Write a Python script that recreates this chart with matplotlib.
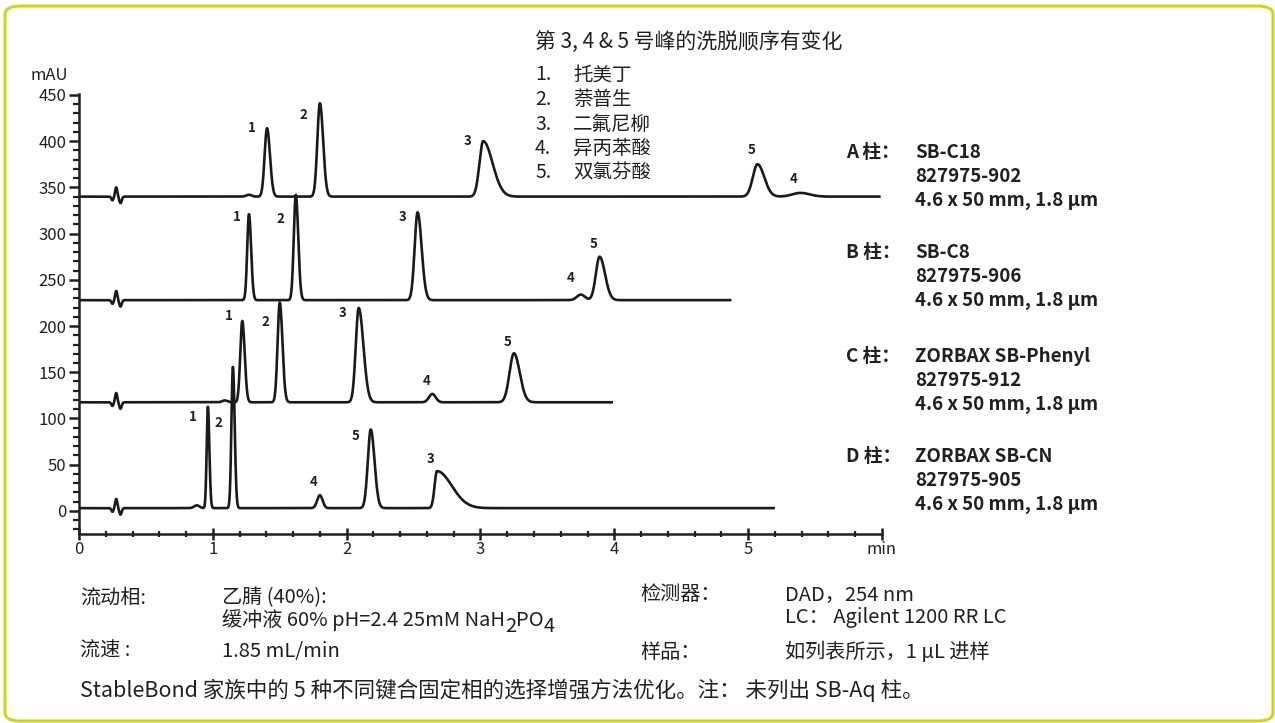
import matplotlib.pyplot as plt
import numpy as np
from matplotlib.patches import FancyBboxPatch
from matplotlib.ticker import MultipleLocator

plt.rcParams['font.family'] = ['Noto Sans CJK SC', 'DejaVu Sans']

# peak tables (time min, height above baseline mAU,
# left sigma, right sigma) and the peak number printed next to each peak
columns = ["A", "B", "C", "D"]
baselines = [340, 228, 117.5, 3]
run_end = [5.98, 4.865, 3.98, 5.19]

peak_ids = {
    "A": ["1", "2", "3", "5", "4"],
    "B": ["1", "2", "3", "4", "5"],
    "C": ["1", "2", "3", "4", "5"],
    "D": ["1", "2", "4", "5", "3"],
}
peak_times = {
    "A": [1.405, 1.80, 3.02, 5.07, 5.39],
    "B": [1.27, 1.62, 2.53, 3.75, 3.89],
    "C": [1.22, 1.50, 2.09, 2.64, 3.25],
    "D": [0.963, 1.15, 1.80, 2.18, 2.675],
}
peak_heights = {
    "A": [74, 101, 60, 35, 4],
    "B": [93, 114, 95, 6, 47],
    "C": [88, 108, 102, 9, 53],
    "D": [110, 153, 14, 85, 40],
}
sigma_left = {
    "A": [0.018, 0.019, 0.028, 0.035, 0.06],
    "B": [0.013, 0.015, 0.022, 0.03, 0.028],
    "C": [0.015, 0.016, 0.022, 0.025, 0.033],
    "D": [0.009, 0.011, 0.02, 0.022, 0.018],
}
sigma_right = {
    "A": [0.022, 0.024, 0.07, 0.05, 0.07],
    "B": [0.016, 0.018, 0.03, 0.03, 0.04],
    "C": [0.018, 0.02, 0.035, 0.025, 0.043],
    "D": [0.011, 0.013, 0.02, 0.028, 0.11],
}
# small extra bumps before the first peak (time, height)
small_bumps = {"A": (1.27, 2), "B": (1.0, 0), "C": (1.09, 2), "D": (0.88, 3)}

# injection disturbance (time, height, sigma)
blip_t = [0.25, 0.278, 0.31]
blip_h = [-4, 10, -7]
blip_s = [0.008, 0.008, 0.009]

# label offsets in pixels from the apex
label_offsets = {
    "A": [(-15, 0), (-17, -12), (-16, 0), (-6, 14), (-7, 14)],
    "B": [(-12, -3), (-15, -24), (-15, -5), (-10, 17), (-6, 13)],
    "C": [(-13, 5), (-14, -20), (-16, -5), (-6, 13), (-6, 11)],
    "D": [(-15, -11), (-15, -56), (-6, 13), (-15, -6), (-6, 12)],
}

col_names = [
    ["SB-C18", "827975-902", "4.6 x 50 mm, 1.8 µm"],
    ["SB-C8", "827975-906", "4.6 x 50 mm, 1.8 µm"],
    ["ZORBAX SB-Phenyl", "827975-912", "4.6 x 50 mm, 1.8 µm"],
    ["ZORBAX SB-CN", "827975-905", "4.6 x 50 mm, 1.8 µm"],
]
compounds = ["托美丁", "萘普生", "二氟尼柳", "异丙苯酸", "双氯芬酸"]

W, H = 1275, 723
fig = plt.figure(figsize=(W / 100, H / 100), dpi=100)
ink = "#231f20"


def fx(px):
    return px / W


def fy(py):
    return 1 - py / H


# rounded frame
frame = FancyBboxPatch((fx(5), fy(721)), fx(1268), 1 - fy(715), transform=fig.transFigure,
                       boxstyle="round,pad=0,rounding_size=0.012", fill=False,
                       edgecolor="#cdd41a", linewidth=2.2)
fig.patches.append(frame)

ax = fig.add_axes([fx(79), fy(534), fx(882 - 79), (534 - 94) / H])
ax.set_xlim(0, 6)
ax.set_ylim(-25, 451)


def shape(t, t0, h, sl, sr):
    s = np.where(t < t0, sl, sr)
    return h * np.exp(-0.5 * ((t - t0) / s) ** 2)


for i, c in enumerate(columns):
    t = np.linspace(0.0, run_end[i], 3000)
    y = np.full_like(t, baselines[i], dtype=float)
    for bt, bh, bs in zip(blip_t, blip_h, blip_s):
        y += shape(t, bt, bh, bs, bs)
    bt, bh = small_bumps[c]
    y += shape(t, bt, bh, 0.02, 0.02)
    for k in range(len(peak_times[c])):
        y += shape(t, peak_times[c][k], peak_heights[c][k], sigma_left[c][k], sigma_right[c][k])
    ax.plot(t, y, color="#1a1a1a", lw=1.9, solid_joinstyle="round")
    for k in range(len(peak_times[c])):
        ax.annotate(peak_ids[c][k], xy=(peak_times[c][k], baselines[i] + peak_heights[c][k]),
                    xytext=label_offsets[c][k], textcoords="offset pixels",
                    ha="center", va="center", fontsize=9.5, fontweight="bold", color=ink)

for s in ["top", "right"]:
    ax.spines[s].set_visible(False)
for s in ["left", "bottom"]:
    ax.spines[s].set_linewidth(1.8)
    ax.spines[s].set_color(ink)
ax.set_xticks([0, 1, 2, 3, 4, 5, 6])
ax.set_xticklabels(["0", "1", "2", "3", "4", "5", "min"])
ax.xaxis.set_minor_locator(MultipleLocator(0.2))
ax.set_yticks(np.arange(0, 451, 50))
ax.yaxis.set_minor_locator(MultipleLocator(10))
ax.tick_params(axis="x", which="major", direction="inout", length=8, width=1.8, labelsize=12,
               colors=ink, pad=1)
ax.tick_params(axis="x", which="minor", direction="inout", length=5, width=1.6, colors=ink)
ax.tick_params(axis="y", which="major", direction="out", length=7, width=1.8, labelsize=12,
               colors=ink, pad=2)
ax.tick_params(axis="y", which="minor", direction="out", length=4, width=1.6, colors=ink)
fig.text(fx(49), fy(76), "mAU", ha="center", va="center", fontsize=12, color=ink)

# title and compound list
fig.text(fx(535), fy(42), "第 3, 4 & 5 号峰的洗脱顺序有变化", ha="left", va="center",
         fontsize=15, color=ink)
for k, name in enumerate(compounds):
    yy = 75 + k * 24.5
    fig.text(fx(535), fy(yy), f"{k + 1}.", ha="left", va="center", fontsize=14, color=ink)
    fig.text(fx(573), fy(yy), name, ha="left", va="center", fontsize=14, color=ink)

# column descriptions
col_y = [153, 253, 357, 457]
for i, c in enumerate(columns):
    fig.text(fx(846), fy(col_y[i]), f"{c} 柱：", ha="left", va="center", fontsize=13.5,
             fontweight="bold", color=ink)
    for j, line in enumerate(col_names[i]):
        fig.text(fx(915), fy(col_y[i] + j * 23.5), line, ha="left", va="center", fontsize=13.5,
                 fontweight="bold", color=ink)

# conditions
fs = 14.5
fig.text(fx(80), fy(598), "流动相:", va="center", fontsize=fs, color=ink)
fig.text(fx(222), fy(598), "乙腈 (40%):", va="center", fontsize=fs, color=ink)
t1 = fig.text(fx(222), fy(620), "缓冲液 60% pH=2.4 25mM NaH", va="center", fontsize=fs, color=ink)
sub1 = fig.add_artist(plt.Annotation("2", xy=(1, -0.25), xycoords=t1, va="bottom", ha="left",
                                     fontsize=fs, color=ink))
po = fig.add_artist(plt.Annotation("PO", xy=(1, 0.25), xycoords=sub1, va="bottom", ha="left",
                                   fontsize=fs, color=ink))
fig.add_artist(plt.Annotation("4", xy=(1, -0.25), xycoords=po, va="bottom", ha="left",
                              fontsize=fs, color=ink))
fig.text(fx(80), fy(651), "流速 :", va="center", fontsize=fs, color=ink)
fig.text(fx(222), fy(651), "1.85 mL/min", va="center", fontsize=fs, color=ink)
fig.text(fx(640), fy(595), "检测器：", va="center", fontsize=fs, color=ink)
fig.text(fx(785), fy(595), "DAD，254 nm", va="center", fontsize=fs, color=ink)
fig.text(fx(785), fy(618), "LC： Agilent 1200 RR LC", va="center", fontsize=fs, color=ink)
fig.text(fx(640), fy(652), "样品：", va="center", fontsize=fs, color=ink)
fig.text(fx(785), fy(652), "如列表所示，1 µL 进样", va="center", fontsize=fs, color=ink)
fig.text(fx(80), fy(690), "StableBond 家族中的 5 种不同键合固定相的选择增强方法优化。注： 未列出 SB-Aq 柱。",
         va="center", fontsize=15.5, color=ink)

fig.savefig("out.png", dpi=100)
